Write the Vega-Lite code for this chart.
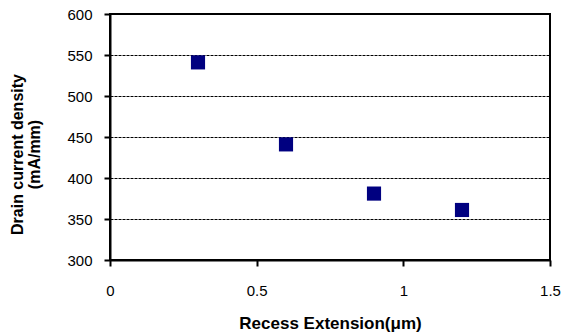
{
  "$schema": "https://vega.github.io/schema/vega-lite/v6.json",
  "width": 440,
  "height": 246,
  "autosize": {"type": "none"},
  "padding": {"left": 110, "top": 14, "right": 16, "bottom": 76},
  "background": "white",
  "config": {
    "font": "Liberation Sans",
    "view": {"stroke": "black", "strokeWidth": 2},
    "axis": {
      "labelFont": "Liberation Sans",
      "titleFont": "Liberation Sans",
      "labelColor": "black",
      "titleColor": "black",
      "labelFontSize": 15,
      "titleFontSize": 15,
      "titleFontWeight": "bold",
      "domainColor": "black",
      "domainWidth": 2,
      "tickColor": "black",
      "tickWidth": 2,
      "tickSize": 6,
      "ticks": true
    }
  },
  "data": {
    "values": [
      {"recess": 0.3, "density": 541},
      {"recess": 0.6, "density": 441},
      {"recess": 0.9, "density": 381},
      {"recess": 1.2, "density": 361}
    ]
  },
  "mark": {"type": "square", "size": 200, "color": "#000080", "opacity": 1, "filled": true},
  "encoding": {
    "x": {
      "field": "recess",
      "type": "quantitative",
      "scale": {"domain": [0, 1.5], "nice": false, "zero": false},
      "axis": {
        "values": [0, 0.5, 1, 1.5],
        "format": "~g",
        "grid": false,
        "labelPadding": 17,
        "labelFlush": false,
        "title": "Recess Extension(μm)",
        "titlePadding": 17,
        "titleFontSize": 17
      }
    },
    "y": {
      "field": "density",
      "type": "quantitative",
      "scale": {"domain": [300, 600], "nice": false, "zero": false},
      "axis": {
        "values": [300, 350, 400, 450, 500, 550, 600],
        "grid": true,
        "gridColor": "black",
        "gridWidth": 1,
        "gridDash": [3, 1],
        "gridOpacity": 1,
        "labelPadding": 12,
        "labelFlush": false,
        "title": ["Drain current density", "(mA/mm)"],
        "titleFontSize": 16,
        "titlePadding": 24,
        "titleLineHeight": 17,
        "titleY": 140,
        "titleAlign": "center"
      }
    }
  }
}
